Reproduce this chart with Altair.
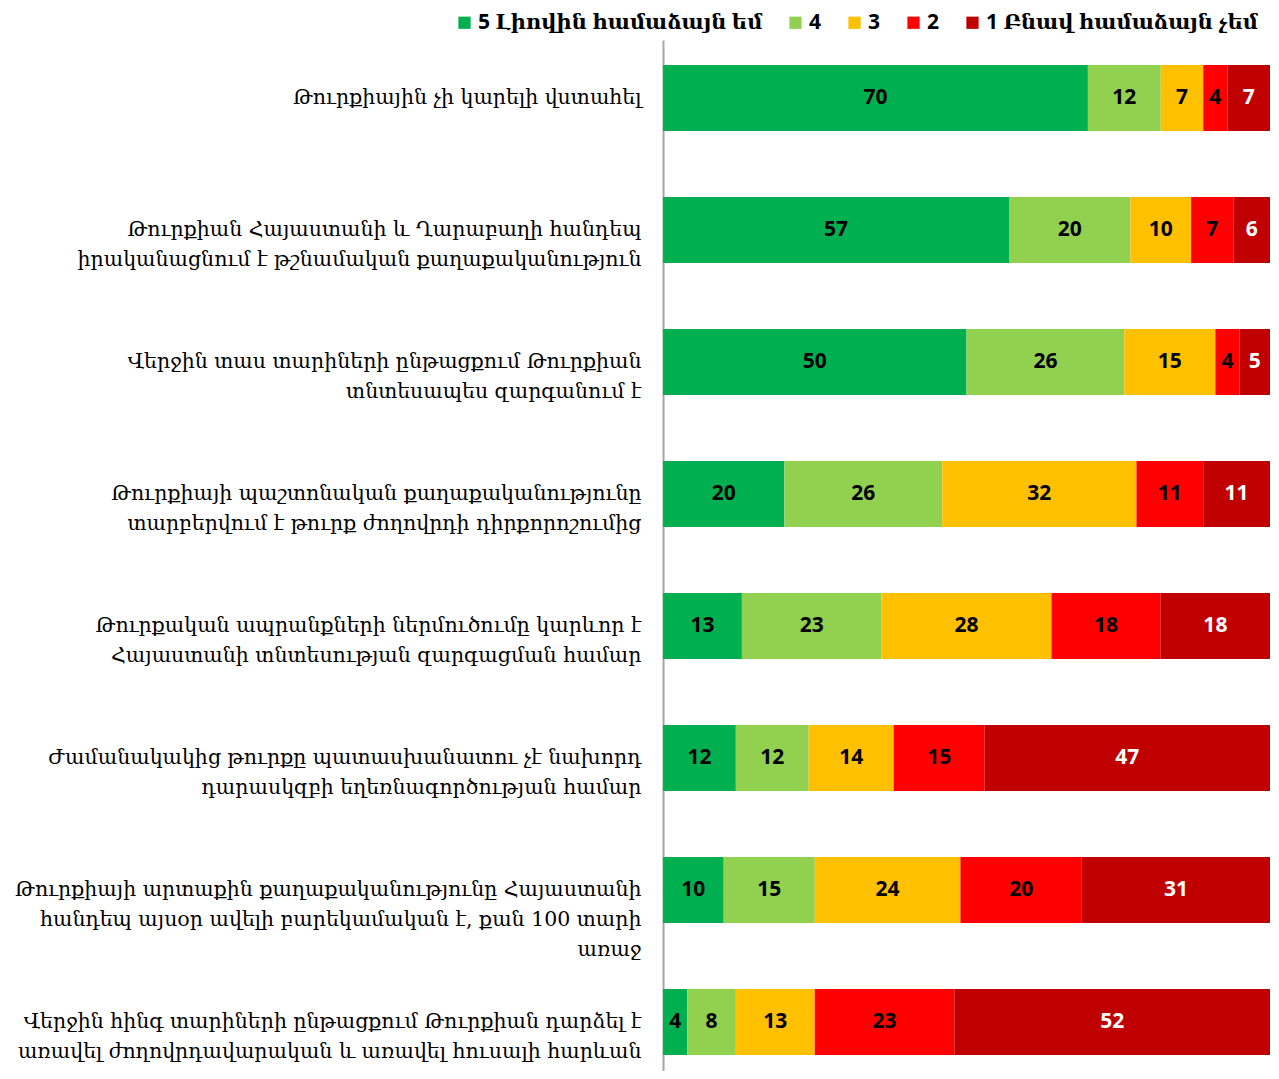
import altair as alt
import pandas as pd

categories = [
    "Թուրքիային չի կարելի վստահել",
    "Թուրքիան Հայաստանի և Ղարաբաղի հանդեպ|իրականացնում է թշնամական քաղաքականություն",
    "Վերջին տաս տարիների ընթացքում Թուրքիան|տնտեսապես զարգանում է",
    "Թուրքիայի պաշտոնական քաղաքականությունը|տարբերվում է թուրք ժողովրդի դիրքորոշումից",
    "Թուրքական ապրանքների ներմուծումը կարևոր է|Հայաստանի տնտեսության զարգացման համար",
    "Ժամանակակից թուրքը պատասխանատու չէ նախորդ|դարասկզբի եղեռնագործության համար",
    "Թուրքիայի արտաքին քաղաքականությունը Հայաստանի|հանդեպ այսօր ավելի  բարեկամական է, քան 100 տարի|առաջ",
    "Վերջին հինգ տարիների ընթացքում Թուրքիան դարձել է|առավել ժողովրդավարական և  առավել հուսալի հարևան",
]
levels = ["5 Լիովին համաձայն եմ", "4", "3", "2", "1 Բնավ համաձայն չեմ"]
colors = ["#00B050", "#92D050", "#FFC000", "#FF0000", "#C00000"]
v5 = [70, 57, 50, 20, 13, 12, 10, 4]
v4 = [12, 20, 26, 26, 23, 12, 15, 8]
v3 = [7, 10, 15, 32, 28, 14, 24, 13]
v2 = [4, 7, 4, 11, 18, 15, 20, 23]
v1 = [7, 6, 5, 11, 18, 47, 31, 52]

series = [v5, v4, v3, v2, v1]
rows = []
for i, cat in enumerate(categories):
    for k, lev in enumerate(levels):
        rows.append({"category": cat, "level": lev, "order": k, "value": series[k][i]})
df = pd.DataFrame(rows)

base = alt.Chart(df).transform_stack(
    stack="value", groupby=["category"], as_=["x0", "x1"],
    sort=[alt.SortField("order", order="ascending")]
).transform_calculate(mid="(datum.x0 + datum.x1) / 2")

yenc = alt.Y(
    "category:N", sort=categories, title=None,
    scale=alt.Scale(paddingInner=0.5, paddingOuter=0.1553, align=0.61),
    axis=alt.Axis(
        labelExpr="split(datum.label, '|')",
        labelFont="DejaVu Serif", labelFontSize=20.5, labelLineHeight=30,
        labelColor="#000000", labelPadding=22, labelLimit=700,
        ticks=False, domainColor="#A6A6A6", domainWidth=2, grid=False,
    ),
)
xscale = alt.Scale(domain=[0, 100], nice=False, zero=True)

bars = base.mark_bar().encode(
    y=yenc,
    x=alt.X("x0:Q", scale=xscale, axis=None),
    x2="x1:Q",
    color=alt.Color(
        "level:N", sort=levels,
        scale=alt.Scale(domain=levels, range=colors),
        legend=alt.Legend(
            title=None, orient="none", direction="horizontal", columns=5,
            legendX=-209, legendY=-28,
            symbolType="square", symbolSize=150, symbolStrokeWidth=0,
            labelFont="Open Sans, DejaVu Serif", labelFontSize=21, labelFontWeight="bold",
            labelColor="#000000", columnPadding=22, labelOffset=3, labelLimit=400,
        ),
    ),
)

text = base.mark_text(font="Open Sans", fontSize=21, fontWeight="bold").encode(
    y=alt.Y("category:N", sort=categories),
    x=alt.X("mid:Q", scale=xscale),
    text=alt.Text("value:Q"),
    color=alt.condition(alt.datum.order == 4, alt.value("#FFFFFF"), alt.value("#000000")),
)

chart = alt.layer(bars, text).properties(
    width=607, height=1031,
    padding={"left": 655, "top": 32, "right": 0, "bottom": 0},
    autosize=alt.AutoSizeParams(type="none"),
).configure_view(stroke=None)

chart.save("out.html", embed_options={"renderer": "svg", "actions": False})
